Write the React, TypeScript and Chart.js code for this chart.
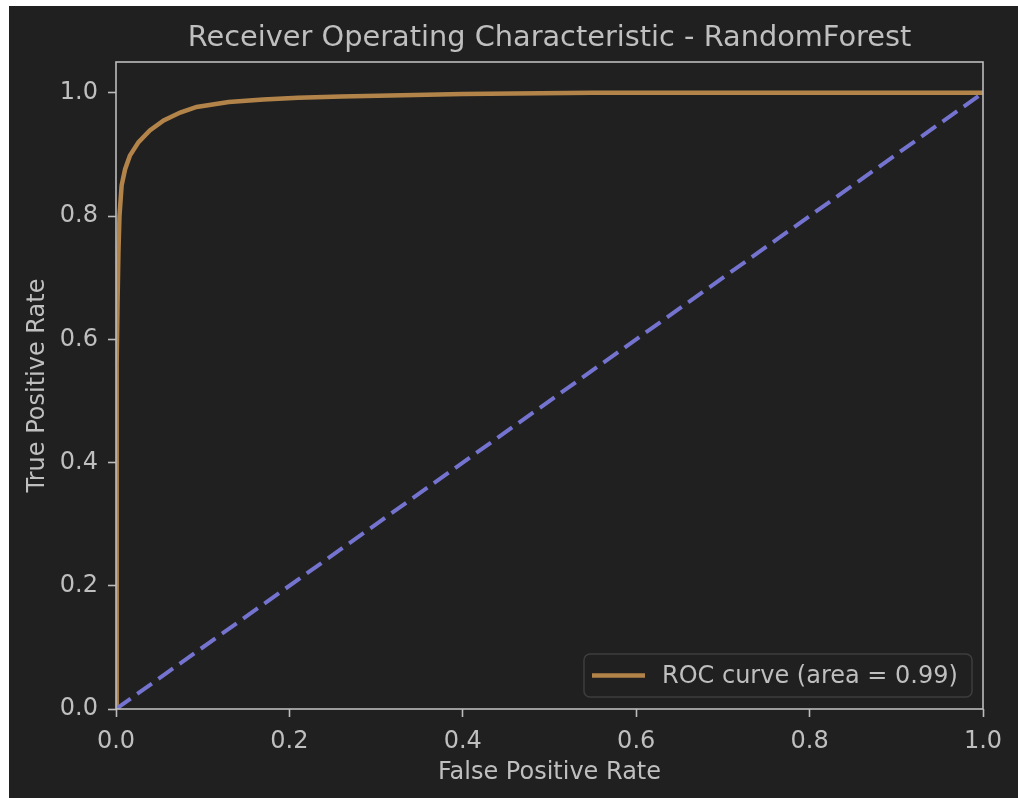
import React, { useEffect, useRef } from "react";
import { Chart, registerables } from "chart.js";

Chart.register(...registerables);

// ---- data ----
const fprValues = [0, 0.0005, 0.001, 0.0018, 0.0028, 0.004, 0.0065, 0.0105, 0.016, 0.026, 0.039, 0.055, 0.074, 0.093, 0.13, 0.17, 0.21, 0.26, 0.33, 0.40, 0.46, 0.55, 0.7, 0.85, 1.0];
const tprValues = [0, 0.35, 0.56, 0.66, 0.74, 0.80, 0.85, 0.876, 0.898, 0.92, 0.939, 0.955, 0.968, 0.977, 0.985, 0.989, 0.992, 0.994, 0.996, 0.998, 0.999, 1.0, 1.0, 1.0, 1.0];
const chanceX = [0, 1];
const chanceY = [0, 1];
const xTicks = [0, 0.2, 0.4, 0.6, 0.8, 1.0];
const yTicks = [0, 0.2, 0.4, 0.6, 0.8, 1.0];
const aucValue = 0.99;
const titleText = "Receiver Operating Characteristic - RandomForest";
const xLabel = "False Positive Rate";
const yLabel = "True Positive Rate";

const BG = "#202020";
const FG = "#bfbfbf";
const SPINE = "#bcbcbc";
const ROC_COLOR = "#b3844a";
const DIAG_COLOR = "#7474d0";
const FONT = "'DejaVu Sans', sans-serif";

const framePlugin = {
  id: "frameAndLegend",
  afterDatasetsDraw(chart: any) {
    const { ctx, chartArea } = chart;
    ctx.save();
    ctx.strokeStyle = SPINE;
    ctx.lineWidth = 1.6;
    ctx.strokeRect(chartArea.left, chartArea.top, chartArea.right - chartArea.left, chartArea.bottom - chartArea.top);
    ctx.restore();
  },
  afterDraw(chart: any) {
    const { ctx, chartArea } = chart;
    // title centred over the plot area
    ctx.save();
    ctx.fillStyle = FG;
    ctx.font = `28.8px ${FONT}`;
    ctx.textAlign = "center";
    ctx.textBaseline = "middle";
    ctx.fillText(titleText, (chartArea.left + chartArea.right) / 2, 32.3);
    ctx.restore();

    // legend
    const ds = chart.data.datasets[0];
    const boxW = 388;
    const boxH = 43;
    const x0 = chartArea.right - 11 - boxW;
    const y0 = chartArea.bottom - 12 - boxH;
    ctx.save();
    ctx.beginPath();
    ctx.roundRect(x0, y0, boxW, boxH, 6);
    ctx.fillStyle = "rgba(32,32,32,0.8)";
    ctx.fill();
    ctx.strokeStyle = "#3e3e3e";
    ctx.lineWidth = 1.5;
    ctx.stroke();
    const cy = y0 + boxH / 2;
    ctx.beginPath();
    ctx.moveTo(x0 + 8, cy);
    ctx.lineTo(x0 + 61, cy);
    ctx.strokeStyle = ds.borderColor;
    ctx.lineWidth = 4.5;
    ctx.stroke();
    ctx.fillStyle = FG;
    ctx.font = `24px ${FONT}`;
    ctx.textBaseline = "middle";
    ctx.textAlign = "left";
    ctx.fillText(ds.label, x0 + 78, cy + 1);
    ctx.restore();
  },
};

export default function App() {
  const canvasRef = useRef<HTMLCanvasElement>(null);
  useEffect(() => {
    if (!canvasRef.current) return;
    const rocData = fprValues.map((x, i) => ({ x, y: tprValues[i] }));
    const diagData = chanceX.map((x, i) => ({ x, y: chanceY[i] }));
    const chart = new Chart(canvasRef.current, {
      type: "scatter",
      data: {
        datasets: [
          {
            label: `ROC curve (area = ${aucValue.toFixed(2)})`,
            data: rocData,
            showLine: true,
            borderColor: ROC_COLOR,
            backgroundColor: ROC_COLOR,
            borderWidth: 4.5,
            pointRadius: 0,
            tension: 0,
            order: 1,
          },
          {
            label: "Chance",
            data: diagData,
            showLine: true,
            borderColor: DIAG_COLOR,
            backgroundColor: DIAG_COLOR,
            borderWidth: 4,
            borderDash: [18, 8],
            pointRadius: 0,
            order: 0,
          },
        ],
      },
      options: {
        responsive: false,
        animation: false,
        devicePixelRatio: 1,
        layout: { padding: { left: 0, right: 35, top: 56, bottom: 0 } },
        plugins: {
          legend: { display: false },
          tooltip: { enabled: false },
          title: { display: false },
        },
        scales: {
          x: {
            type: "linear",
            min: 0,
            max: 1,
            afterFit: (s: any) => {
              s.height = 89;
            },
            afterBuildTicks: (s: any) => {
              s.ticks = xTicks.map((v) => ({ value: v }));
            },
            ticks: {
              color: FG,
              font: { family: FONT, size: 24 },
              padding: 10,
              maxRotation: 0,
              callback: (v: any) => Number(v).toFixed(1),
            },
            grid: {
              drawOnChartArea: false,
              drawTicks: true,
              tickLength: 8,
              tickWidth: 1.6,
              tickColor: SPINE,
            },
            border: { display: false },
            title: {
              display: true,
              text: xLabel,
              color: FG,
              font: { family: FONT, size: 24 },
              padding: { top: 0, bottom: 11 },
            },
          },
          y: {
            type: "linear",
            min: 0,
            max: 1.05,
            afterFit: (s: any) => {
              s.width = 107;
            },
            afterBuildTicks: (s: any) => {
              s.ticks = yTicks.map((v) => ({ value: v }));
            },
            ticks: {
              color: FG,
              font: { family: FONT, size: 24 },
              padding: 10,
              callback: (v: any) => Number(v).toFixed(1),
            },
            grid: {
              drawOnChartArea: false,
              drawTicks: true,
              tickLength: 8,
              tickWidth: 1.6,
              tickColor: SPINE,
            },
            border: { display: false },
            title: {
              display: true,
              text: yLabel,
              color: FG,
              font: { family: FONT, size: 24 },
              padding: { top: 14, bottom: 0 },
            },
          },
        },
      },
      plugins: [framePlugin],
    });
    return () => chart.destroy();
  }, []);

  return (
    <div
      style={{
        position: "fixed",
        left: 9,
        top: 6,
        width: 1200,
        height: 1000,
        background: BG,
      }}
    >
      <canvas ref={canvasRef} width={1009} height={792} style={{ display: "block" }} />
    </div>
  );
}
